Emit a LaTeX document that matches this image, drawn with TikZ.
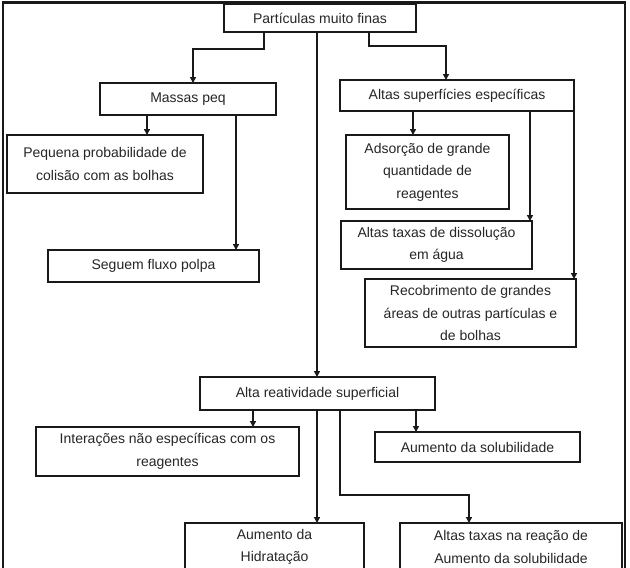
\documentclass[tikz,border=0pt]{standalone}
\usepackage{fontspec}
\setmainfont{Liberation Sans}
\usetikzlibrary{arrows.meta}
\begin{document}
\begin{tikzpicture}[x=1pt,y=-1pt,
  box/.style={draw=black!90, line width=1.8pt, fill=white, inner sep=0pt, outer sep=0pt,
    align=center, text=black!85, font=\fontsize{14}{22.5}\selectfont},
  conn/.style={draw=black!90, line width=1.8pt},
  arr/.style={conn, -{Triangle[length=6pt,width=6pt]}},
  frame/.style={draw=black!90, line width=2.8pt}]
\useasboundingbox (0,0) rectangle (630,568);
\clip (0,0) rectangle (630,568);
\fill[white] (0,0) rectangle (630,568);
% outer frame
\coordinate (fa) at (3,600);
\coordinate (fb) at (3,2.5);
\coordinate (fc) at (625,2.5);
\coordinate (fd) at (625,600);
\draw[frame] (fa) -- (fb) -- (fc) -- (fd);
% nodes
\node[box, minimum width=192pt, minimum height=28pt] (top) at (320,18) {Partículas muito finas};
\node[box, minimum width=176pt, minimum height=32pt] (massas) at (188,99) {Massas peq};
\node[box, minimum width=234pt, minimum height=31pt] (altas) at (457,95.5) {Altas superfícies específicas};
\node[box, minimum width=196pt, minimum height=58pt] (pequena) at (105,164) {Pequena probabilidade de\\colisão com as bolhas};
\node[box, minimum width=211pt, minimum height=32pt] (seguem) at (153.5,266) {Seguem fluxo polpa};
\node[box, minimum width=163pt, minimum height=74pt] (adsorcao) at (427.5,172) {Adsorção de grande\\quantidade de\\reagentes};
\node[box, minimum width=191pt, minimum height=48pt] (dissol) at (436.5,245) {Altas taxas de dissolução\\em água};
\node[box, minimum width=211pt, minimum height=68pt] (recob) at (470.5,313) {Recobrimento de grandes\\áreas de outras partículas e\\de bolhas};
\node[box, minimum width=235pt, minimum height=33pt] (reat) at (317.5,393.5) {Alta reatividade superficial};
\node[box, minimum width=263pt, minimum height=49pt] (inter) at (167.5,451.5) {Interações não específicas com os\\reagentes};
\node[box, minimum width=205pt, minimum height=30pt] (aumsol) at (477.5,447) {Aumento da solubilidade};
\node[box, minimum width=179pt, minimum height=48pt] (hidr) at (274.5,547) {Aumento da\\Hidratação};
\node[box, minimum width=222pt, minimum height=48pt] (reacao) at (511,547) {Altas taxas na reação de\\Aumento da solubilidade};
% helper coordinates
\coordinate (j1) at (264,49);
\coordinate (j2) at (193,49);
\coordinate (j3) at (369,46);
\coordinate (j4) at (446,46);
\coordinate (xc) at (317,0);
\coordinate (xp) at (147,0);
\coordinate (xs) at (236,0);
\coordinate (xa) at (413,0);
\coordinate (xd) at (530,0);
\coordinate (xr) at (574,0);
\coordinate (xi) at (253,0);
\coordinate (xu) at (416,0);
\coordinate (j5) at (340,495);
\coordinate (j6) at (469,495);
% connectors
\draw[arr] (top.south -| j1) -- (j1) -- (j2) -- (massas.north -| j2);
\draw[arr] (top.south -| j3) -- (j3) -- (j4) -- (altas.north -| j4);
\draw[arr] (top.south -| xc) -- (reat.north -| xc);
\draw[arr] (massas.south -| xp) -- (pequena.north -| xp);
\draw[arr] (massas.south -| xs) -- (seguem.north -| xs);
\draw[arr] (altas.south -| xa) -- (adsorcao.north -| xa);
\draw[arr] (altas.south -| xd) -- (dissol.north -| xd);
\draw[arr] (altas.south -| xr) -- (recob.north -| xr);
\draw[arr] (reat.south -| xi) -- (inter.north -| xi);
\draw[arr] (reat.south -| xu) -- (aumsol.north -| xu);
\draw[arr] (reat.south -| xc) -- (hidr.north -| xc);
\draw[arr] (reat.south -| j5) -- (j5) -- (j6) -- (reacao.north -| j6);
\end{tikzpicture}
\end{document}
